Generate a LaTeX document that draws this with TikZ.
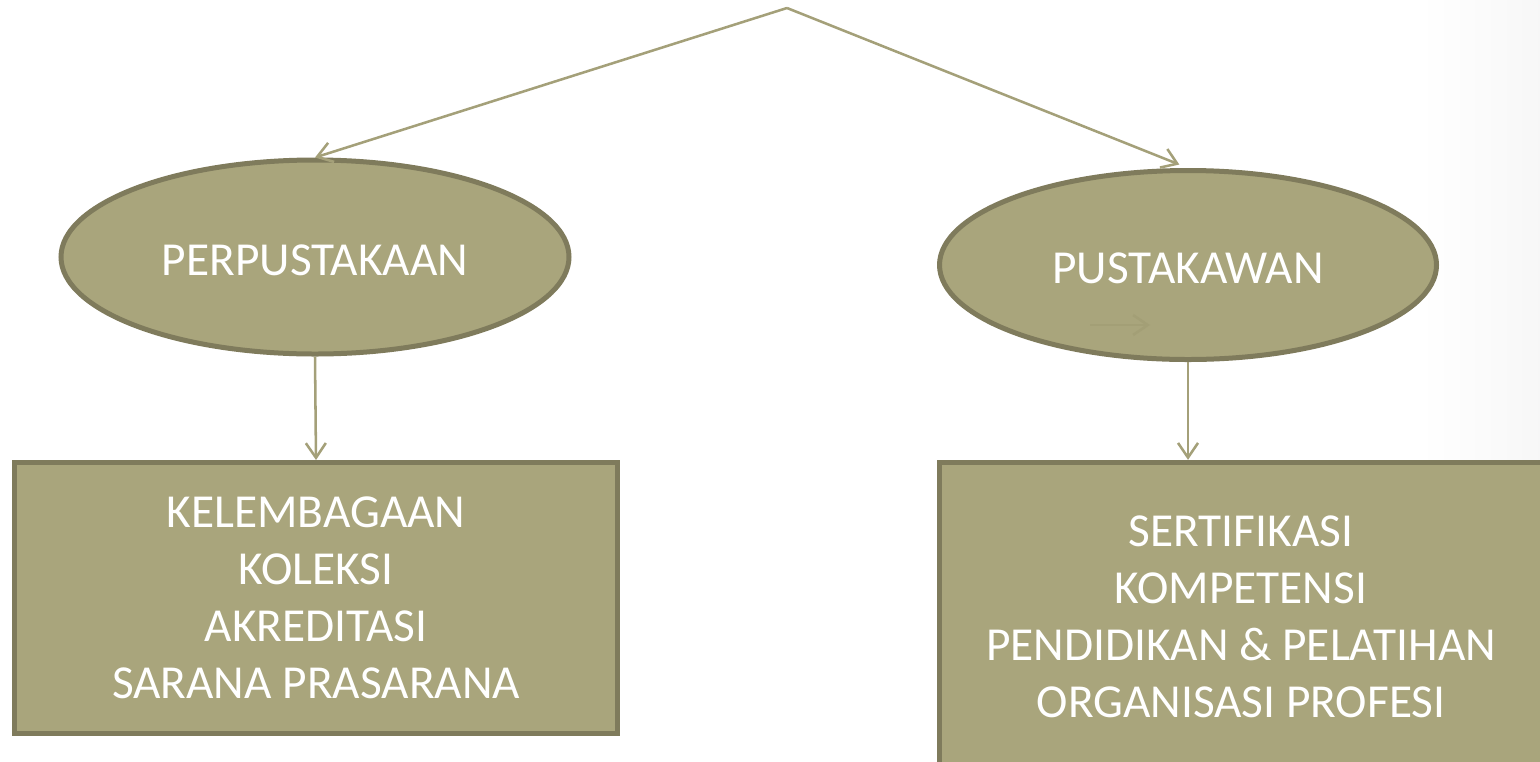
\documentclass[tikz,border=0pt]{standalone}
\usepackage{fontspec}
\setmainfont{Carlito}
\usetikzlibrary{shapes.geometric,arrows.meta}
\definecolor{olive}{HTML}{A9A57C}
\definecolor{oliveline}{HTML}{7F7B5C}
\definecolor{arrowline}{HTML}{A4A079}
\definecolor{faintarrow}{HTML}{A39F76}
\begin{document}
\begin{tikzpicture}[x=0.75pt, y=-0.75pt,
    bubble/.style={ellipse, draw=oliveline, fill=olive, line width=3.75pt, inner sep=0pt, text=white},
    box/.style={rectangle, draw=oliveline, fill=olive, line width=3.75pt, inner sep=0pt, text=white, align=center},
    link/.style={draw=arrowline, line width=1.9pt, -{Straight Barb[length=11pt, width=15pt]}},
    font=\fontsize{35.5pt}{42.75pt}\selectfont]
    % Page
    \useasboundingbox (0,0) rectangle (1540,761);
    \shade [left color=white, right color=black!3] (1420,0) rectangle (1540,761);
    % Ellipses
    \node [bubble, minimum width=381pt, minimum height=145.5pt, text height=28pt] (perp) at (315,257) {PERPUSTAKAAN};
    \node [bubble, minimum width=372.75pt, minimum height=141.75pt, text height=28pt] (pust) at (1188,265) {PUSTAKAWAN};
    % Boxes
    \node [box, minimum width=452.25pt, minimum height=203.25pt] (lib) at (316,598)
        {KELEMBAGAAN\\KOLEKSI\\AKREDITASI\\SARANA PRASARANA};
    \node [box, minimum width=453pt, minimum height=232pt] (prof) at (1241,617)
        {SERTIFIKASI\\KOMPETENSI\\PENDIDIKAN \& PELATIHAN\\ORGANISASI PROFESI};
    % Arrows
    \coordinate (top) at (787,8);
    \draw [link] (top) -- (perp.north);
    \draw [link, shorten >=7pt] (top) -- (pust.north);
    \draw [link] (perp.south) -- (lib.north);
    \draw [link] (pust.south) -- (pust.south |- prof.north);
    \coordinate (fa) at (1090,325);
    \coordinate (fb) at (1150,325);
    \draw [link, draw=faintarrow] (fa) -- (fb);
\end{tikzpicture}
\end{document}
